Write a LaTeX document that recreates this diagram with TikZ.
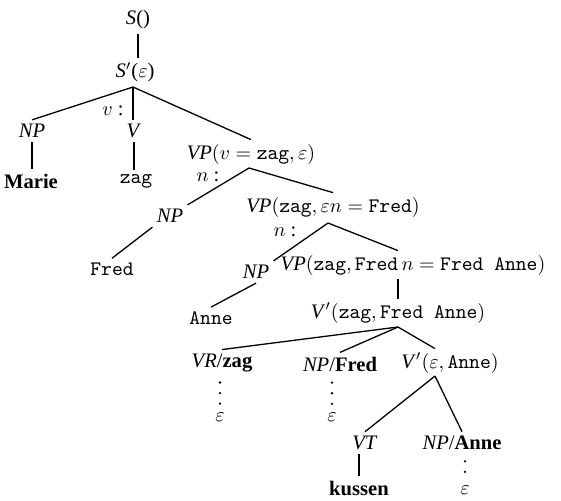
\documentclass[tikz,border=0pt]{standalone}
\usepackage{fontspec}
\setmainfont{Liberation Serif}
\begin{document}
\begin{tikzpicture}[x=0.5pt,y=-0.5pt,
  every node/.style={inner sep=2pt, font=\fontsize{10.3}{12}\selectfont},
  edge/.style={line width=0.65pt},
  dotline/.style={line width=1.3pt, line cap=round, dash pattern=on 0pt off 5.3pt}]
\useasboundingbox (0,0) rectangle (561,500);
% nodes
\node (s0) at (138,20) {\textit{S}()};
\node (s1) at (135,72) {\textit{S}$'$($\varepsilon$)};
\coordinate (j1) at (133,87);
\node (vlab) at (113,111) {$v$ :};
\node (np1) at (32,131) {\textit{NP}};
\node (v1) at (134,131) {\textit{V}};
\node (marie) at (31,181) {\textbf{Marie}};
\node (zag1) at (136,181) {\texttt{zag}};
\node (vp1) at (251,154) {\textit{VP}$(v = \texttt{zag}, \varepsilon)$};
\coordinate (j2) at (249,168);
\node (n1) at (208,177) {$n$ :};
\node (np2) at (170,216) {\textit{NP}};
\node (fred1) at (112,269) {\texttt{Fred}};
\node (vp2) at (333,207) {\textit{VP}$(\texttt{zag}, \varepsilon n = \texttt{Fred})$};
\coordinate (j3) at (328,223);
\node (n2) at (285,232) {$n$ :};
\node (np3) at (256,272) {\textit{NP}};
\node (vp3) at (413,265) {\textit{VP}$(\texttt{zag}, \texttt{Fred}\, n = \texttt{Fred Anne})$};
\node (anne1) at (211,318) {\texttt{Anne}};
\node (vb1) at (398,313) {\textit{V}$'(\texttt{zag}, \texttt{Fred Anne})$};
\coordinate (j5) at (398,327);
\node (vrzag) at (222,363) {\textit{VR}/\textbf{zag}};
\node (npfred) at (340,364) {\textit{NP}/\textbf{Fred}};
\node (vb2) at (450,363) {\textit{V}$'(\varepsilon, \texttt{Anne})$};
\coordinate (j6) at (435,376);
\node (eps1) at (220,417) {$\varepsilon$};
\node (eps2) at (332,417) {$\varepsilon$};
\node (vt) at (365,443) {\textit{VT}};
\node (npanne) at (462,443) {\textit{NP}/\textbf{Anne}};
\node (kussen) at (359,488) {\textbf{kussen}};
\node (eps3) at (465,490) {$\varepsilon$};
% edges
\draw[edge] (s0.south) -- (s0.south |- s1.north);
\draw[edge] (j1) -- (np1.north);
\draw[edge] (j1) -- (j1 |- v1.north);
\draw[edge] (j1) -- (vp1.north);
\draw[edge] (np1.south) -- (np1.south |- marie.north);
\draw[edge] (v1.south) -- (v1.south |- zag1.north);
\draw[edge] (j2) -- (np2.north east);
\draw[edge] (j2) -- (vp2.north);
\draw[edge] (np2.south west) -- (fred1.north);
\draw[edge] (j3) -- (np3.north east);
\draw[edge] (j3) -- (vp3.north -| vb1);
\draw[edge] (np3.south) -- (anne1.north);
\draw[edge] (vp3.south -| vb1) -- (vb1.north);
\draw[edge] (j5) -- (vrzag.north);
\draw[edge] (j5) -- (npfred.north);
\draw[edge] (j5) -- (j6 |- vb2.north);
\draw[edge] (j6) -- (vt.north);
\draw[edge] (j6) -- (npanne.north);
\draw[edge] (kussen.north |- vt.south) -- (kussen.north);
\draw[dotline, shorten <=3pt, shorten >=1.6pt] (eps1 |- vrzag.south) -- (eps1.north);
\draw[dotline, shorten <=3.5pt, shorten >=1.6pt] (eps2 |- npfred.south) -- (eps2.north);
\draw[dotline, shorten <=3.5pt, shorten >=1.2pt] (eps3 |- npanne.south) -- (eps3.north);
\end{tikzpicture}
\end{document}
